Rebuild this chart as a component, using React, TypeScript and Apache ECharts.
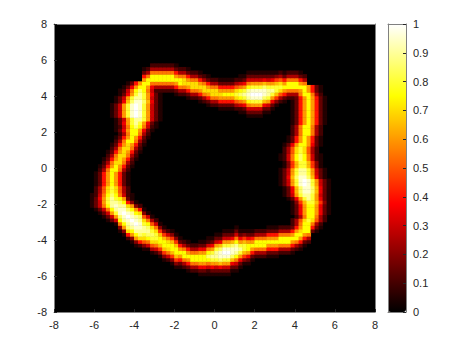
import React, { useEffect, useRef } from "react";
import * as echarts from "echarts";

// Cross-sections of the ring. Each character is a level: 0-9,a-k = n/20 of the scale.
const C14 = "138cec831", E14 = "25beeb52";
const C15 = "138cfc831", E15 = "25bffb52";
const C16 = "25aegea52", E16 = "137cffc731";
const C17 = "126bfhfb621", E17 = "149dggd941";
const C18 = "137cgigc731", E19 = "136cgiigc631";
const C19 = "136bfijifb631", C20 = "136cgjkjgc631", E20 = "137dhjjhd731";
// wider cuts, where the ring runs diagonally
const W15C = "26befeb62", W15E = "149dffd941", W16E = "26beggeb62", W17C = "15aeghgea51";
const W18C = "16bfhihfb61", W18E = "14aegiigea41", W19C = "14bfhijihfb41", W19E = "28ehijjihe82";
const W20C = "14cfijkjifc41", W20E = "28ehijjihe82";

// [row from the centre, column at the middle of the cut, cut along the row]
const leftSide: [number, number, string][] = [
  [23,-18,C15],[22,-18,E16],[21,-19,C17],[20,-19,C18],[19,-19,E19],[18,-19,E20],[17,-20,C20],[16,-20,C20],
  [15,-20,C20],[14,-20,C20],[13,-19,E19],[12,-20,C18],[11,-20,C17],[10,-20,E16],[9,-20,E15],[8,-21,C15],
  [7,-21,E15],[6,-22,C14],[5,-22,E14],[4,-23,C14],[3,-23,E14],[2,-24,C14],[1,-24,E14],[0,-25,C15],
  [-1,-25,E15],[-2,-26,C15],[-3,-26,C15],[-4,-26,C15],[-5,-26,C15],[-6,-26,C16],[-7,-26,C16],[-8,-26,C17],
  [-9,-26,C18],[-10,-25,E19],[-11,-25,C19],[-12,-24,C19],[-13,-23,C20],[-14,-22,C20],[-15,-21,C19],[-16,-20,C18],
];
const rightSide: [number, number, string][] = [
  [22,22,C14],[21,22,C15],[20,23,E15],[19,23,C15],[18,23,C15],[17,23,C15],[16,23,C15],[15,23,C15],[14,23,C15],
  [13,23,C15],[12,23,C15],[11,23,E15],[10,23,E15],[9,23,E15],[8,22,C15],[7,22,C15],[6,22,E16],
  [5,21,C16],[4,21,C16],[3,21,C17],[2,21,C17],[1,22,E17],[0,22,E17],[-1,22,E19],[-2,22,E19],
  [-3,22,E20],[-4,22,C20],[-5,22,C20],[-6,23,E20],[-7,23,E20],[-8,23,E19],[-9,23,C18],[-10,24,E17],
  [-11,24,E16],[-12,24,E16],[-13,24,E16],[-14,24,E15],[-15,23,C16],[-16,23,E15],[-17,22,C15],[-18,21,C14],
];
// [column from the centre, row at the middle of the cut, cut along the column]
const topSide: [number, number, string][] = [
  [-18,23,C15],[-17,24,E15],[-16,25,E15],[-15,25,E15],[-14,25,E15],[-13,25,E15],[-12,25,E15],[-11,25,E15],
  [-10,24,C15],[-9,24,E15],[-8,24,E14],[-7,23,C14],[-6,23,E14],[-5,23,E14],[-4,22,C14],[-3,22,E14],
  [-2,21,C14],[-1,21,E14],[0,21,E14],[1,20,C14],[2,20,C15],[3,20,C15],[4,20,C15],[5,20,C16],
  [6,20,C17],[7,20,C18],[8,20,C19],[9,20,C20],[10,20,C20],[11,20,C20],[12,21,E20],[13,21,E19],
  [14,21,C18],[15,22,E17],[16,22,C16],[17,22,C15],[18,23,E15],[19,23,E15],[20,23,E15],[21,22,C15],
  [22,22,E15],
];
const bottomSide: [number, number, string][] = [
  [-25,-11,W18C],[-24,-12,W19C],[-23,-13,W20C],[-22,-14,W20E],[-21,-15,W20C],[-20,-16,W20C],[-19,-16,W19E],[-18,-17,W18E],
  [-17,-18,W18C],[-16,-19,W17C],[-15,-19,W16E],[-14,-20,W15E],[-13,-21,W15E],[-12,-22,W15C],[-11,-22,W15E],[-10,-23,W15E],
  [-9,-24,C15],[-8,-24,E15],[-7,-25,C15],[-6,-25,E15],[-5,-25,E15],[-4,-25,E16],[-3,-25,E16],[-2,-25,C17],
  [-1,-25,C18],[0,-24,E19],[1,-24,E20],[2,-24,C20],[3,-24,C20],[4,-23,E20],[5,-23,C19],[6,-23,C18],
  [7,-22,E17],[8,-22,E16],[9,-22,C15],[10,-21,E15],[11,-21,E15],[12,-21,E15],[13,-21,C15],[14,-21,C15],
  [15,-21,C15],[16,-20,E15],[17,-20,E15],[18,-20,E15],[19,-20,C15],[20,-19,E15],[21,-19,C15],[22,-18,C15],
  [23,-17,E15],
];
const axisTicks = [-8, -6, -4, -2, 0, 2, 4, 6, 8];
const barTicks = [0, 0.1, 0.2, 0.3, 0.4, 0.5, 0.6, 0.7, 0.8, 0.9, 1];
const hotColors = ["#000000","#550000","#aa0000","#ff0000","#ff5500","#ffaa00","#ffff00","#ffff80","#ffffff"];

const SIZE = 80;
const HALF = 40;
const cells: number[][] = Array.from({ length: SIZE }, () => new Array(SIZE).fill(0));
const put = (u: number, v: number, ch: string) => {
  const c = u + HALF, r = v + HALF;
  cells[r][c] = Math.max(cells[r][c], parseInt(ch, 36) / 20);
};
[...leftSide, ...rightSide].forEach(([v, mid, s]) => [...s].forEach((ch, i) => put(mid - (s.length >> 1) + i, v, ch)));
[...topSide, ...bottomSide].forEach(([u, mid, s]) => [...s].forEach((ch, i) => put(u, mid - (s.length >> 1) + i, ch)));
const heatData: [number, number, number][] = [];
cells.forEach((row, r) => row.forEach((val, c) => { if (val > 0) heatData.push([c, r, val]); }));
const bandNames = cells.map((_, i) => String(i));

const FONT = "'Liberation Sans', Arial, sans-serif";
const label = { color: "#262626", fontFamily: FONT, fontSize: 11 };
const line = { show: true, onZero: false, lineStyle: { color: "#808080", width: 1 } };
const tick = { show: true, inside: true, length: 3, lineStyle: { color: "#262626", width: 1 } };

const valueAxis = (gridIndex: number, position: string, labelled: boolean, ticks: boolean, min: number, max: number, interval: number, fmt?: any) => ({
  type: "value", gridIndex, position, min, max, interval, z: 5,
  axisLine: line,
  axisTick: ticks ? tick : { show: false },
  axisLabel: labelled ? { ...label, margin: 7, formatter: fmt, hideOverlap: false } : { show: false },
  splitLine: { show: false },
});

export default function App() {
  const ref = useRef<HTMLDivElement>(null);
  useEffect(() => {
    document.body.style.margin = "0";
    const chart = echarts.init(ref.current!, undefined, { renderer: "svg" });
    const fmtAxis = (v: number) => (axisTicks.includes(v) ? String(v) : "");
    const fmtBar = (v: number) => { const t = barTicks.find((b) => Math.abs(b - v) < 1e-6); return t === undefined ? "" : String(t); };
    chart.setOption({
      animation: false,
      backgroundColor: "#ffffff",
      grid: [
        { left: 54, top: 24, width: 321, height: 288, containLabel: false, show: true, backgroundColor: "#000000", borderWidth: 0 },
        { left: 388, top: 24, width: 18, height: 288, containLabel: false },
      ],
      xAxis: [
        { type: "category", gridIndex: 0, data: bandNames, show: false },
        valueAxis(0, "bottom", true, true, -8, 8, 2, fmtAxis),
        valueAxis(0, "top", false, false, -8, 8, 2),
        valueAxis(1, "bottom", false, false, 0, 1, 1),
        valueAxis(1, "top", false, false, 0, 1, 1),
      ],
      yAxis: [
        { type: "category", gridIndex: 0, data: bandNames, show: false },
        valueAxis(0, "left", true, true, -8, 8, 2, fmtAxis),
        valueAxis(0, "right", false, false, -8, 8, 2),
        valueAxis(1, "left", false, false, 0, 1, 0.1),
        valueAxis(1, "right", true, true, 0, 1, 0.1, fmtBar),
      ],
      visualMap: {
        type: "continuous", seriesIndex: 0, min: 0, max: 1, calculable: false,
        left: 388, top: 24, itemWidth: 18, itemHeight: 288, padding: 0,
        inRange: { color: hotColors },
      },
      series: [
        {
          type: "heatmap", xAxisIndex: 0, yAxisIndex: 0, data: heatData,
          progressive: 0, silent: true, itemStyle: { borderWidth: 0 },
          emphasis: { disabled: true },
        },
      ],
    });
    return () => chart.dispose();
  }, []);
  return <div ref={ref} style={{ position: "fixed", left: 0, top: 0, width: 467, height: 350 }} />;
}
